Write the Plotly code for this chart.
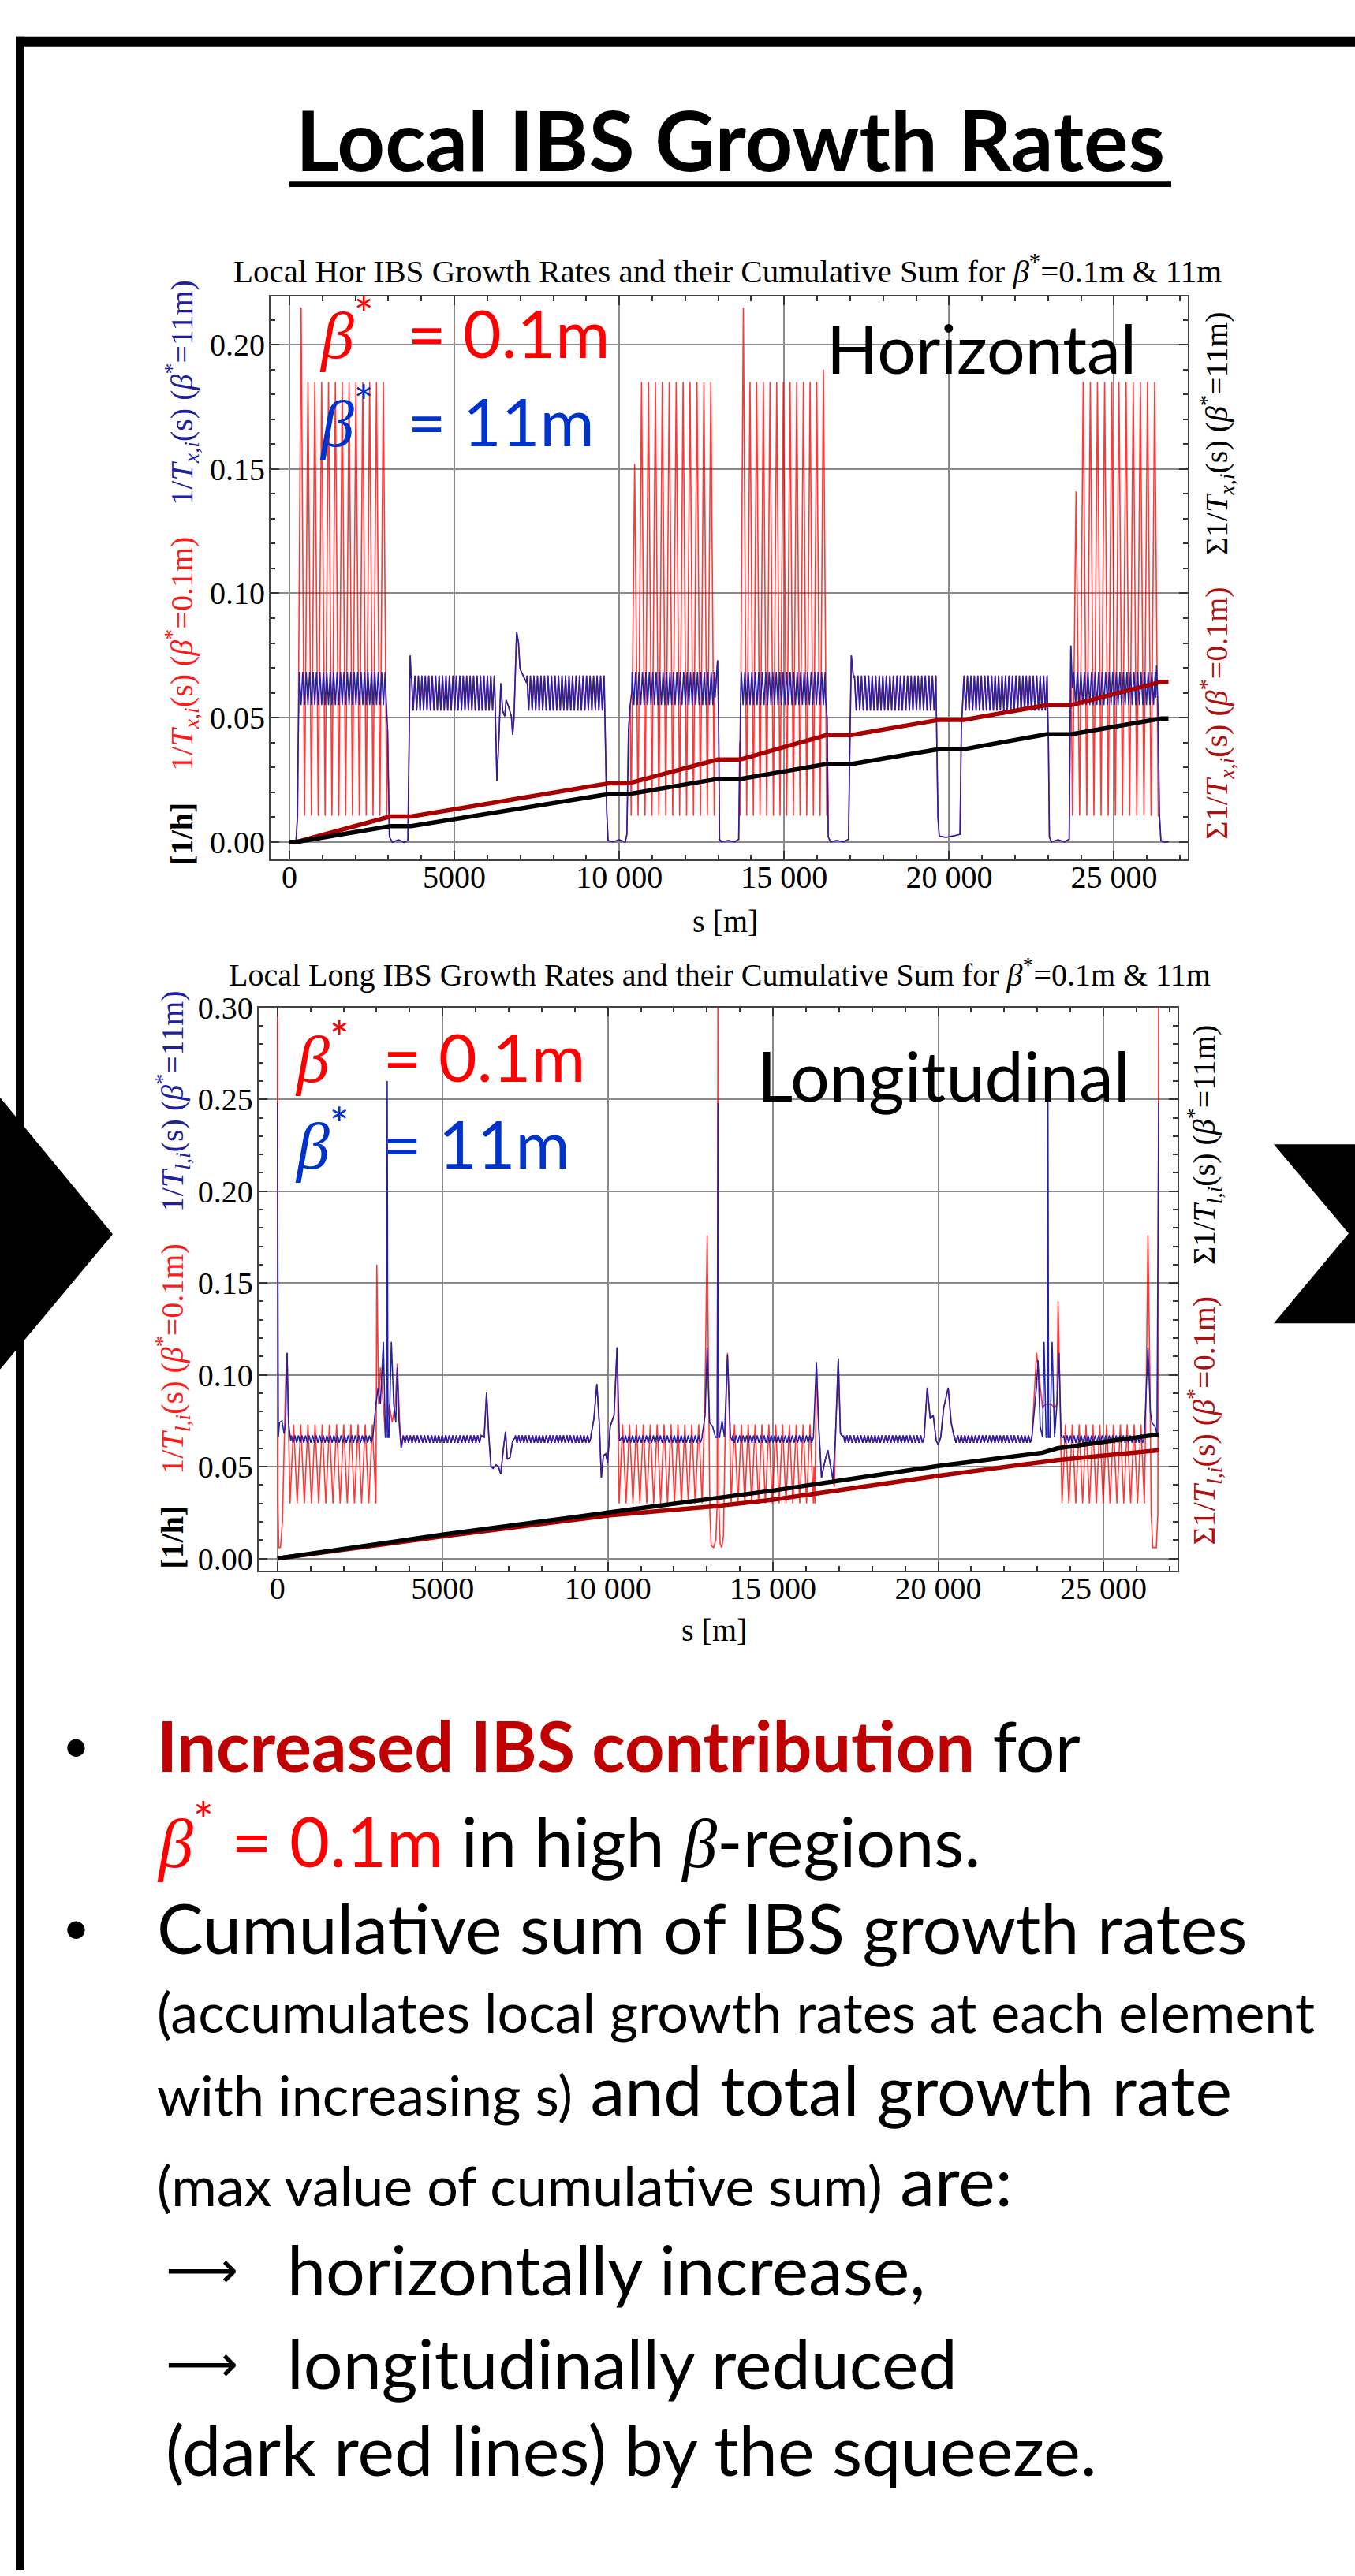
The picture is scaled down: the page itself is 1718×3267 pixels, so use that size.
import plotly.graph_objects as go

W, H = 1718, 3267


def px(x):
    return x / W


def py(y):
    return 1 - y / H


# ------------------------------------------------------------------
# DATA
# ------------------------------------------------------------------
CELL = 106.9           # spacing between successive red strokes [m]
BAND_STEP = 53.45      # half period of the fine 11m ripple [m]

# ---- Horizontal chart ----
hor_arc_start = [300, 3700, 7200, 10390, 13700, 17130, 20450, 23780]
hor_arc_end = [2900, 6210, 9540, 12890, 16240, 19600, 22970, 26250]
hor_blue_hi = [0.0684, 0.0669, 0.0669, 0.0684, 0.0684, 0.0669, 0.0669, 0.0684]
hor_blue_lo = [0.0550, 0.0528, 0.0528, 0.0550, 0.0550, 0.0528, 0.0528, 0.0550]
# red (beta*=0.1m) strongly oscillating arcs
hor_red_start = [250, 10360, 13660, 23740]
hor_red_end = [2950, 12880, 16290, 26340]
hor_red_peak = 0.185
hor_red_trough = 0.0105
hor_red_first = [0.215, 0.152, 0.215, 0.141]
hor_red_last = [0.185, 0.185, 0.190, 0.185]
# straight sections / dispersion suppressors (blue = red there)
hor_seg_s = [
    [0, 120, 200, 240, 265, 285],
    [2930, 2975, 3030, 3120, 3300, 3480, 3590, 3630, 3660, 3690],
    [6225, 6289, 6353, 6408, 6464, 6528, 6568, 6647, 6727, 6767, 6807, 6887, 6943, 6990, 7046, 7126, 7190],
    [9560, 9590, 9620, 9660, 9800, 10000, 10180, 10230, 10280, 10330, 10375],
    [12900, 12980, 13010, 13040, 13100, 13300, 13500, 13620, 13650, 13680],
    [16250, 16300, 16335, 16400, 16600, 16800, 16950, 16990, 17035, 17100],
    [19610, 19640, 19660, 19700, 19900, 20100, 20330, 20370, 20420],
    [22985, 23010, 23040, 23100, 23300, 23500, 23640, 23670, 23690, 23740],
    [26260, 26290, 26330, 26380, 26420, 26500, 26650],
]
hor_seg_v = [
    [0.0, 0.0, 0.0005, 0.01, 0.04, 0.052],
    [0.058, 0.045, 0.002, -0.0002, 0.0008, -0.0002, 0.0005, 0.04, 0.075, 0.066],
    [0.062, 0.0245, 0.0423, 0.0638, 0.0527, 0.0505, 0.0571, 0.0542, 0.0505, 0.0431, 0.0497, 0.0846, 0.0802, 0.0697, 0.068, 0.066, 0.064],
    [0.055, 0.040, 0.012, 0.0005, 0.0, 0.0008, 0.0, 0.003, 0.045, 0.055, 0.060],
    [0.058, 0.073, 0.05, 0.001, 0.0, 0.0005, 0.0, 0.001, 0.04, 0.058],
    [0.058, 0.05, 0.002, 0.0, 0.0005, 0.0, 0.001, 0.04, 0.075, 0.066],
    [0.055, 0.032, 0.01, 0.0023, 0.0018, 0.0023, 0.003, 0.045, 0.06],
    [0.055, 0.04, 0.002, 0.0, 0.0008, 0.0, 0.001, 0.045, 0.079, 0.062],
    [0.058, 0.071, 0.055, 0.01, 0.0005, 0.0, 0.0],
]
# cumulative sums
hor_cum01_s = [0, 232, 3051, 3692, 9670, 10268, 12980, 13663, 16289, 17038, 19704, 20452, 22950, 23697, 26430, 26650]
hor_cum01_v = [0, 0, 0.0102, 0.0102, 0.0235, 0.0235, 0.0331, 0.0331, 0.0430, 0.0430, 0.0491, 0.0491, 0.0550, 0.0550, 0.0644, 0.0644]
hor_cum11_s = [0, 232, 3051, 3692, 9670, 10268, 12980, 13663, 16289, 17038, 19704, 20452, 22950, 23697, 26430, 26650]
hor_cum11_v = [0, 0, 0.0063, 0.0063, 0.0192, 0.0192, 0.0253, 0.0253, 0.0313, 0.0313, 0.0373, 0.0373, 0.0433, 0.0433, 0.0496, 0.0496]

# ---- Longitudinal chart ----
lon_arc_start = [420, 3806, 7200, 10431, 13776, 17130, 20485, 23794]
lon_arc_end = [2891, 6167, 9489, 12855, 16224, 19578, 22842, 26242]
lon_blue_hi = 0.067
lon_blue_lo = 0.063
lon_cold_arcs = [1, 2, 5, 6]          # arcs where red coincides with blue
lon_red_start = [380, 10342, 13731, 23749]
lon_red_end = [2980, 12855, 16224, 26242]
lon_red_hi = 0.073
lon_red_lo = 0.030
lon_blue_seg_s = [
    [0, 25, 60, 135, 200, 245, 290, 335, 400],
    [2891, 2980, 3043, 3115, 3205, 3268, 3298, 3321, 3344, 3375, 3447, 3519, 3582, 3627, 3681, 3743, 3806],
    [6167, 6257, 6329, 6392, 6463, 6526, 6616, 6688, 6760, 6840, 6903, 6957, 7038, 7119, 7200],
    [9489, 9578, 9668, 9740, 9803, 9866, 9938, 9991, 10072, 10189, 10279, 10350, 10431],
    [12855, 12945, 13008, 13080, 13170, 13260, 13310, 13335, 13360, 13380, 13459, 13531, 13622, 13713, 13776],
    [16224, 16314, 16378, 16469, 16559, 16659, 16741, 16813, 16886, 16976, 17040, 17130],
    [19578, 19669, 19760, 19850, 19941, 20004, 20077, 20167, 20304, 20394, 20485],
    [22842, 22978, 23023, 23087, 23159, 23205, 23268, 23300, 23322, 23344, 23386, 23449, 23522, 23594, 23658, 23721, 23794],
    [26242, 26350, 26423, 26468, 26559, 26622, 26676],
]
lon_blue_seg_v = [
    [0.248, 0.066, 0.074, 0.075, 0.068, 0.074, 0.112, 0.074, 0.064],
    [0.066, 0.084, 0.093, 0.084, 0.118, 0.066, 0.066, 0.260, 0.066, 0.066, 0.118, 0.084, 0.074, 0.104, 0.074, 0.060, 0.066],
    [0.066, 0.066, 0.0904, 0.068, 0.050, 0.049, 0.051, 0.050, 0.046, 0.060, 0.069, 0.054, 0.055, 0.064, 0.066],
    [0.066, 0.076, 0.095, 0.074, 0.044, 0.056, 0.057, 0.052, 0.072, 0.078, 0.115, 0.064, 0.066],
    [0.066, 0.078, 0.115, 0.074, 0.072, 0.066, 0.066, 0.248, 0.066, 0.066, 0.075, 0.066, 0.111, 0.066, 0.064],
    [0.066, 0.107, 0.074, 0.044, 0.052, 0.059, 0.050, 0.043, 0.064, 0.109, 0.068, 0.066],
    [0.066, 0.093, 0.076, 0.078, 0.064, 0.062, 0.066, 0.082, 0.093, 0.074, 0.066],
    [0.066, 0.094, 0.108, 0.072, 0.066, 0.118, 0.066, 0.066, 0.250, 0.066, 0.066, 0.118, 0.066, 0.084, 0.112, 0.066, 0.066],
    [0.066, 0.115, 0.080, 0.074, 0.072, 0.068, 0.248],
]
lon_red_seg_s = [
    [0, 15, 40, 90, 150, 200, 245, 290, 335],
    [3007, 3061, 3115, 3205, 3268, 3321, 3384, 3474, 3564, 3627, 3699, 3761, 3806],
    [6167, 6257, 6329, 6392, 6463, 6526, 6616, 6688, 6760, 6840, 6903, 6957, 7038, 7119, 7200],
    [9489, 9578, 9668, 9740, 9803, 9866, 9938, 9991, 10072, 10189, 10279],
    [12945, 13008, 13050, 13090, 13130, 13200, 13270, 13310, 13335, 13360, 13400, 13450, 13500, 13549, 13622, 13685],
    [16240, 16269, 16314, 16378, 16469, 16559, 16659, 16741, 16813, 16858, 16886, 16976, 17040, 17130],
    [19578, 19669, 19760, 19850, 19941, 20004, 20077, 20167, 20304, 20394, 20485],
    [22842, 22978, 23069, 23159, 23250, 23322, 23413, 23522, 23594, 23630, 23685, 23721],
    [26305, 26350, 26405, 26450, 26495, 26604, 26649, 26676],
]
lon_red_seg_v = [
    [0.34, 0.03, 0.006, 0.006, 0.02, 0.06, 0.095, 0.112, 0.07],
    [0.160, 0.084, 0.104, 0.084, 0.066, 0.074, 0.084, 0.074, 0.084, 0.106, 0.074, 0.061, 0.066],
    [0.066, 0.066, 0.0904, 0.068, 0.050, 0.049, 0.051, 0.050, 0.046, 0.060, 0.069, 0.054, 0.055, 0.064, 0.066],
    [0.066, 0.076, 0.095, 0.074, 0.044, 0.056, 0.057, 0.052, 0.072, 0.078, 0.115],
    [0.094, 0.176, 0.104, 0.024, 0.007, 0.006, 0.01, 0.03, 0.34, 0.03, 0.008, 0.006, 0.012, 0.064, 0.112, 0.074],
    [0.05, 0.030, 0.106, 0.074, 0.044, 0.052, 0.059, 0.050, 0.043, 0.039, 0.064, 0.109, 0.068, 0.066],
    [0.066, 0.093, 0.076, 0.078, 0.064, 0.062, 0.066, 0.082, 0.093, 0.074, 0.066],
    [0.066, 0.112, 0.096, 0.082, 0.084, 0.084, 0.084, 0.082, 0.084, 0.140, 0.084, 0.048],
    [0.104, 0.176, 0.104, 0.024, 0.006, 0.006, 0.024, 0.34],
]
lon_cum01_s = [0, 5000, 10000, 13190, 15000, 20000, 23610, 26690]
lon_cum01_v = [0, 0.012, 0.0234, 0.0284, 0.032, 0.045, 0.0536, 0.059]
lon_cum11_s = [0, 5000, 10000, 13190, 15000, 20000, 23160, 23610, 26690]
lon_cum11_v = [0, 0.013, 0.025, 0.033, 0.037, 0.0504, 0.0576, 0.060, 0.0676]


# ------------------------------------------------------------------
# helpers to expand the periodic arc pattern from the read values
# ------------------------------------------------------------------
def alternate(s0, s1, even_v, odd_v, step, first_odd=None, last_odd=None):
    n = max(2, int(round((s1 - s0) / step)))
    if n % 2:
        n += 1
    ss, vv = [], []
    for k in range(n + 1):
        ss.append(s0 + (s1 - s0) * k / n)
        if k % 2 == 0:
            vv.append(even_v)
        else:
            v = odd_v
            if k == 1 and first_odd is not None:
                v = first_odd
            elif k == n - 1 and last_odd is not None:
                v = last_odd
            vv.append(v)
    return ss, vv


def merged(pairs):
    pts = sorted(pairs, key=lambda p: p[0])
    return [p[0] for p in pts], [p[1] for p in pts]


def inside(s, starts, ends):
    return any(a <= s <= b for a, b in zip(starts, ends))


# horizontal blue
hb = []
for s_list, v_list in zip(hor_seg_s, hor_seg_v):
    hb += list(zip(s_list, v_list))
for a, b, hi, lo in zip(hor_arc_start, hor_arc_end, hor_blue_hi, hor_blue_lo):
    ss, vv = alternate(a, b, hi, lo, BAND_STEP)
    hb += list(zip(ss, vv))
hor_blue_s, hor_blue_v = merged(hb)

# horizontal red
hr = [p for p in hb if not inside(p[0], hor_red_start, hor_red_end)]
for a, b, f, l in zip(hor_red_start, hor_red_end, hor_red_first, hor_red_last):
    ss, vv = alternate(a, b, hor_red_trough, hor_red_peak, CELL, f, l)
    hr += list(zip(ss, vv))
hor_red_s, hor_red_v = merged(hr)

# longitudinal blue
lb = []
for s_list, v_list in zip(lon_blue_seg_s, lon_blue_seg_v):
    lb += list(zip(s_list, v_list))
lband = {}
for i, (a, b) in enumerate(zip(lon_arc_start, lon_arc_end)):
    ss, vv = alternate(a, b, lon_blue_hi, lon_blue_lo, BAND_STEP)
    lband[i] = list(zip(ss, vv))
    lb += lband[i]
lon_blue_s, lon_blue_v = merged(lb)

# longitudinal red
lr = []
for s_list, v_list in zip(lon_red_seg_s, lon_red_seg_v):
    lr += list(zip(s_list, v_list))
for i in lon_cold_arcs:
    lr += lband[i]
for a, b in zip(lon_red_start, lon_red_end):
    ss, vv = alternate(a, b, lon_red_lo, lon_red_hi, CELL)
    lr += list(zip(ss, vv))
lon_red_s, lon_red_v = merged(lr)

# ------------------------------------------------------------------
# FIGURE
# ------------------------------------------------------------------
RED = "rgba(255,0,0,0.78)"
BLUE = "#2222a8"
DARKRED = "#a80000"

fig = go.Figure()


def add_set(xa, ya, rs, rv, bs, bv, c01s, c01v, c11s, c11v):
    fig.add_trace(go.Scatter(x=rs, y=rv, mode="lines", line=dict(color=RED, width=1.6),
                             xaxis=xa, yaxis=ya, hoverinfo="skip"))
    fig.add_trace(go.Scatter(x=bs, y=bv, mode="lines", line=dict(color=BLUE, width=1.6),
                             xaxis=xa, yaxis=ya, hoverinfo="skip"))
    fig.add_trace(go.Scatter(x=c01s, y=c01v, mode="lines", line=dict(color=DARKRED, width=5.5),
                             xaxis=xa, yaxis=ya, hoverinfo="skip"))
    fig.add_trace(go.Scatter(x=c11s, y=c11v, mode="lines", line=dict(color="black", width=5.5),
                             xaxis=xa, yaxis=ya, hoverinfo="skip"))


add_set("x", "y", hor_red_s, hor_red_v, hor_blue_s, hor_blue_v,
        hor_cum01_s, hor_cum01_v, hor_cum11_s, hor_cum11_v)
add_set("x2", "y2", lon_red_s, lon_red_v, lon_blue_s, lon_blue_v,
        lon_cum01_s, lon_cum01_v, lon_cum11_s, lon_cum11_v)

SERIF = "Liberation Serif"
tickfont = dict(family=SERIF, size=40, color="black")


def xaxis(domain, rng):
    return dict(domain=domain, range=rng, tickmode="linear", tick0=0, dtick=5000,
                exponentformat="none", ticklabelstandoff=-14,
                ticks="inside", ticklen=11, tickwidth=1.5, tickcolor="#333",
                minor=dict(ticks="inside", ticklen=6, tickcolor="#333", dtick=1000, tick0=0),
                showline=True, linecolor="#444", linewidth=2, mirror="ticks",
                showgrid=True, gridcolor="#8a8a8a", gridwidth=1.5, zeroline=False,
                tickfont=tickfont, fixedrange=True)


def yaxis(domain, rng, anchor):
    return dict(domain=domain, range=rng, anchor=anchor, tickmode="linear", tick0=0, dtick=0.05,
                tickformat=".2f", ticklabelstandoff=-3,
                ticks="inside", ticklen=11, tickwidth=1.5, tickcolor="#333",
                minor=dict(ticks="inside", ticklen=6, tickcolor="#333", dtick=0.01, tick0=0),
                showline=True, linecolor="#444", linewidth=2, mirror="ticks",
                showgrid=True, gridcolor="#8a8a8a", gridwidth=1.5, zeroline=False,
                tickfont=tickfont, fixedrange=True)


fig.update_layout(
    width=W, height=H, margin=dict(l=0, r=0, t=0, b=0),
    paper_bgcolor="white", plot_bgcolor="white", showlegend=False,
    separators=". ",
    xaxis=dict(xaxis([px(343), px(1506)], [-574, 27236]), anchor="y"),
    yaxis=yaxis([py(1077.6), py(357)], [-0.0071, 0.2195], "x"),
    xaxis2=dict(xaxis([px(327.7), px(1493)], [-576, 27246]), anchor="y2"),
    yaxis2=yaxis([py(1987.6), py(1267)], [-0.0066, 0.30], "x2"),
)

ann = []


def text(x, y, t, size, color="black", family="Lato", xanchor="left", yanchor="middle", angle=0):
    ann.append(dict(xref="paper", yref="paper", x=px(x), y=py(y), text=t, showarrow=False,
                    xanchor=xanchor, yanchor=yanchor, textangle=angle,
                    font=dict(family=family, size=size, color=color)))


BETA = "<span style='font-family:Liberation Serif'><i>β</i></span>"
NB = "\u00a0"

# slide title
text(926, 155, "<b>Local IBS Growth Rates</b>", 106, xanchor="center")

# chart titles
text(922, 322, "Local Hor IBS Growth Rates and their Cumulative Sum for <i>β</i><sup>*</sup>=0.1m &amp; 11m",
     41, family=SERIF, xanchor="center")
text(912, 1222, "Local Long IBS Growth Rates and their Cumulative Sum for <i>β</i><sup>*</sup>=0.1m &amp; 11m",
     40, family=SERIF, xanchor="center")

# s [m]
text(919, 1157, "s [m]", 40, family=SERIF, xanchor="center")
text(905, 2064, "s [m]", 40, family=SERIF, xanchor="center")


# vertical axis titles
def ytitle(sub):
    t = "1/<i>T</i><sub><i>%s</i></sub>(s)" % sub
    return ("<b>[1/h]</b>" + NB * 4 +
            "<span style='color:#ff1a1a'>" + t + NB + "(<i>β</i><sup>*</sup>=0.1m)</span>" + NB * 4 +
            "<span style='color:#1f1fa0'>" + t + NB + "(<i>β</i><sup>*</sup>=11m)</span>")


def ytitle_r(sub):
    t = "Σ1/<i>T</i><sub><i>%s</i></sub>(s)" % sub
    return ("<span style='color:#b01010'>" + t + NB + "(<i>β</i><sup>*</sup>=0.1m)</span>" + NB * 4 +
            "<span style='color:black'>" + t + NB + "(<i>β</i><sup>*</sup>=11m)</span>")


text(230, 711, ytitle("x,i"), 40, family=SERIF, xanchor="center", angle=-90)
text(1542, 715, ytitle_r("x,i"), 40, family=SERIF, xanchor="center", angle=-90)
text(218, 1616, ytitle("l,i"), 40, family=SERIF, xanchor="center", angle=-90)
text(1526, 1622, ytitle_r("l,i"), 40, family=SERIF, xanchor="center", angle=-90)

# in-chart labels
LAB = 84
text(403, 398, BETA + "<sup>*</sup>" + NB * 2 + "=" + NB + "0.1m", LAB, color="#ff0000")
text(403, 511, BETA + "<sup>*</sup>" + NB * 2 + "=" + NB + "11m", LAB, color="#0033cc")
text(1046, 422, "Horizontal", 86)
text(372, 1324, BETA + "<sup>*</sup>" + NB * 2 + "=" + NB + "0.1m", LAB, color="#ff0000")
text(372, 1435, BETA + "<sup>*</sup>" + NB * 2 + "=" + NB + "11m", LAB, color="#0033cc")
text(958, 1353, "Longitudinal", 88)

# bullet text
BIG = 88
SMALL = 70


def small(t):
    return "<span style='font-size:%dpx'>%s</span>" % (SMALL, t)


text(96, 2210, "•", 60, xanchor="center")
text(197, 2211, "<span style='color:#c00000'><b>Increased IBS contribution</b></span> for", BIG)
text(197, 2327, "<span style='color:#ff0000'>" + BETA + "<sup>*</sup> = 0.1m</span> in high " + BETA + "-regions.", BIG)
text(96, 2443, "•", 60, xanchor="center")
text(197, 2444, "Cumulative sum of IBS growth rates", BIG)
text(197, 2552, "(accumulates local growth rates at each element", SMALL)
text(197, 2651, small("with increasing s)") + " and total growth rate", BIG)
text(197, 2767, small("(max value of cumulative sum)") + " are:", BIG)
text(208, 2883, "⟶", 64, family="DejaVu Sans")
text(362, 2881, "horizontally increase,", BIG)
text(208, 3003, "⟶", 64, family="DejaVu Sans")
text(362, 3001, "longitudinally reduced", BIG)
text(208, 3112, "(dark red lines) by the squeeze.", BIG)

fig.update_layout(annotations=ann)


# decorative frame, underline and arrows
def rect(x0, y0, x1, y1):
    return dict(type="rect", xref="paper", yref="paper", x0=px(x0), x1=px(x1), y0=py(y1), y1=py(y0),
                fillcolor="black", line=dict(width=0), layer="above")


def poly(pts):
    d = "M " + " L ".join("%f,%f" % (px(a), py(b)) for a, b in pts) + " Z"
    return dict(type="path", xref="paper", yref="paper", path=d, fillcolor="black",
                line=dict(width=0), layer="above")


shapes = [
    rect(20, 25, W, 37),
    rect(20, 25, 31, H),
    rect(367, 210, 1485, 217),
    poly([(0, 1382), (143, 1557), (0, 1730)]),
    poly([(1615, 1442), (W, 1442), (W, 1671), (1615, 1671), (1710, 1556)]),
]
fig.update_layout(shapes=shapes)

fig.write_html("out.html")
